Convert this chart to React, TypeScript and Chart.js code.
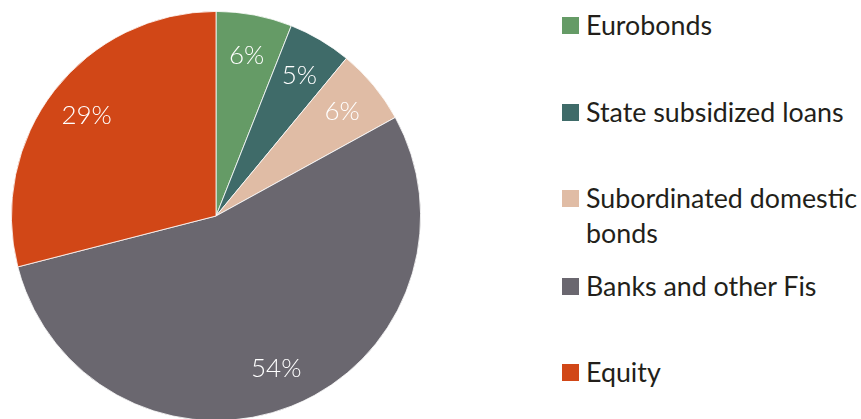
import React, { useEffect, useRef } from "react";
import { Chart, registerables } from "chart.js";

Chart.register(...registerables);

const categories = [
  "Eurobonds",
  "State subsidized loans",
  "Subordinated domestic bonds",
  "Banks and other Fis",
  "Equity",
];
const legendLines = [
  ["Eurobonds"],
  ["State subsidized loans"],
  ["Subordinated domestic", "bonds"],
  ["Banks and other Fis"],
  ["Equity"],
];
const shares = [6, 5, 6, 54, 29];
const colors = ["#659B66", "#3F6B69", "#E0BCA5", "#6A676F", "#D14717"];

// layout (legend square vertical centres)
const legendCenters = [26, 113, 199, 287, 373];

const labelPlugin = {
  id: "sliceLabels",
  afterDatasetsDraw(chart: any) {
    const ctx = chart.ctx;
    const meta = chart.getDatasetMeta(0);
    ctx.save();
    ctx.fillStyle = "#ffffff";
    ctx.font = "300 26px Lato";
    ctx.textAlign = "center";
    ctx.textBaseline = "middle";
    meta.data.forEach((arc: any, i: number) => {
      const p = arc.getProps(["x", "y", "startAngle", "endAngle", "outerRadius"], true);
      const mid = (p.startAngle + p.endAngle) / 2;
      const r = p.outerRadius * 0.8;
      ctx.fillText(shares[i] + "%", p.x + Math.cos(mid) * r, p.y + Math.sin(mid) * r);
    });
    ctx.restore();
  },
};

export default function App() {
  const ref = useRef<HTMLCanvasElement | null>(null);
  useEffect(() => {
    if (!ref.current) return;
    const chart = new Chart(ref.current, {
      type: "pie",
      data: {
        labels: categories,
        datasets: [
          {
            data: shares,
            backgroundColor: colors,
            borderColor: "#ffffff",
            borderWidth: 0.8,
          },
        ],
      },
      options: {
        responsive: false,
        animation: false,
        devicePixelRatio: 1,
        layout: { padding: 11 },
        plugins: {
          legend: { display: false },
          tooltip: { enabled: false },
        },
      },
      plugins: [labelPlugin],
    });
    return () => chart.destroy();
  }, []);

  return (
    <div
      style={{
        position: "fixed",
        left: 0,
        top: 0,
        width: 861,
        height: 419,
        overflow: "hidden",
        background: "#ffffff",
      }}
    >
      <canvas ref={ref} width={432} height={432} style={{ position: "absolute", left: 0, top: 0 }} />
      {categories.map((c, i) => (
        <div
          key={c}
          style={{
            position: "absolute",
            left: 562,
            top: legendCenters[i] - 9,
            display: "flex",
            alignItems: "flex-start",
          }}
        >
          <div style={{ width: 17, height: 17, background: colors[i], flexShrink: 0 }} />
          <div
            style={{
              marginLeft: 7,
              marginTop: -9,
              fontFamily: "Lato, sans-serif",
              fontSize: 26.8,
              lineHeight: "35px",
              color: "#231F1A",
              whiteSpace: "nowrap",
            }}
          >
            {legendLines[i].map((l, j) => (
              <div key={j}>{l}</div>
            ))}
          </div>
        </div>
      ))}
    </div>
  );
}
